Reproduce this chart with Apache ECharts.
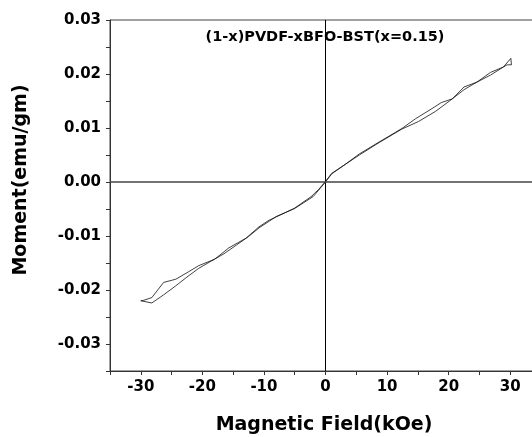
<!DOCTYPE html>
<html>
<head>
<meta charset="utf-8">
<script src="https://cdn.jsdelivr.net/npm/echarts@6/dist/echarts.min.js"></script>
<style>
html,body{margin:0;padding:0;background:#fff;}
#c{width:532px;height:437px;}
</style>
</head>
<body>
<div id="c"></div>
<script>
// Ascending branch (field increasing from -30 to +30)
const fieldUp = [-30, -28.2, -26.3, -24.4, -22.5, -20.6, -18.5, -16.5, -14.5, -12.5, -10.8, -8, -5, -2, 0, 1, 3, 5.5, 8.7, 12.4, 15.1, 17.9, 20.6, 22.5, 24.6, 26.8, 28.9, 30.1];
const momentUp = [-0.0220, -0.0224, -0.0209, -0.0193, -0.0176, -0.0160, -0.0146, -0.0133, -0.0117, -0.0101, -0.0085, -0.0064, -0.0049, -0.0027, 0.0000, 0.0015, 0.0031, 0.0050, 0.0073, 0.0098, 0.0112, 0.0131, 0.0154, 0.0171, 0.0185, 0.0198, 0.0213, 0.0229];
// Descending branch (field decreasing from +30 to -30)
const fieldDown = [30.1, 30.2, 29.5, 28.9, 26.8, 24.6, 22.5, 20.6, 18.8, 17.3, 14.6, 12.4, 8.7, 5.5, 3, 1, 0, -1.2, -1.8, -2.2, -5.1, -9.2, -10.8, -12.9, -15.7, -18, -20.6, -22.2, -24.3, -26.3, -28.2, -29.5, -30];
const momentDown = [0.0229, 0.0217, 0.0217, 0.0213, 0.0203, 0.0185, 0.0176, 0.0154, 0.0147, 0.0136, 0.0117, 0.0099, 0.0074, 0.0052, 0.0031, 0.0016, 0.0001, -0.0015, -0.0021, -0.0026, -0.0049, -0.0071, -0.0083, -0.0104, -0.0122, -0.0143, -0.0155, -0.0166, -0.0180, -0.0186, -0.0214, -0.0219, -0.0220];

const xTickLabels = ['-30', '-20', '-10', '0', '10', '20', '30'];
const yTickLabels = ['-0.03', '-0.02', '-0.01', '0.00', '0.01', '0.02', '0.03'];
const titleText = '(1-x)PVDF-xBFO-BST(x=0.15)';
const xName = 'Magnetic Field(kOe)';
const yName = 'Moment(emu/gm)';

const FONT = 'DejaVu Sans';
const upData = fieldUp.map((f, i) => [f, momentUp[i]]);
const downData = fieldDown.map((f, i) => [f, momentDown[i]]);

const chart = echarts.init(document.getElementById('c'), null, {renderer: 'canvas'});
chart.setOption({
  animation: false,
  backgroundColor: '#fff',
  grid: {left: 110, top: 20, width: 431, height: 351, containLabel: false, outerBoundsMode: 'none', show: true, borderColor: '#444', borderWidth: 1, backgroundColor: 'transparent'},
  xAxis: {
    type: 'value', min: -35, max: 35, interval: 5,
    axisLine: {show: true, onZero: false, lineStyle: {color: '#333', width: 1}},
    axisTick: {show: true, inside: false, length: 4, lineStyle: {color: '#333'}},
    splitLine: {show: false},
    axisLabel: {
      margin: 9, color: '#000', fontFamily: FONT, fontWeight: 'bold', fontSize: 15,
      formatter: function (v) {
        const s = String(Math.round(v));
        return xTickLabels.indexOf(s) >= 0 ? s : '';
      }
    }
  },
  yAxis: {
    type: 'value', min: -0.035, max: 0.03, interval: 0.005,
    axisLine: {show: true, onZero: false, lineStyle: {color: '#333', width: 1}},
    axisTick: {show: true, inside: false, length: 4, lineStyle: {color: '#333'}},
    splitLine: {show: false},
    axisLabel: {
      margin: 9, color: '#000', fontFamily: FONT, fontWeight: 'bold', fontSize: 15,
      formatter: function (v) {
        const r = Math.round(v * 1000);
        if (r % 10 !== 0) return '';
        const s = (r / 1000).toFixed(2);
        return yTickLabels.indexOf(s) >= 0 ? s : '';
      }
    }
  },
  graphic: [
    {type: 'text', z: 10, style: {text: titleText, x: 325, y: 37, align: 'center', verticalAlign: 'middle', fontFamily: FONT, fontWeight: 'bold', fontSize: 14.5, fill: '#000'}},
    {type: 'text', style: {text: xName, x: 324, y: 425, align: 'center', verticalAlign: 'middle', fontFamily: FONT, fontWeight: 'bold', fontSize: 19, fill: '#000'}},
    {type: 'text', x: 21, y: 180, rotation: Math.PI / 2, style: {text: yName, x: 0, y: 0, align: 'center', verticalAlign: 'middle', fontFamily: FONT, fontWeight: 'bold', fontSize: 19, fill: '#000'}}
  ],
  series: [
    {
      type: 'line', data: upData, showSymbol: false, smooth: false,
      lineStyle: {color: '#111', width: 0.8},
      markLine: {
        silent: true, symbol: ['none', 'none'], label: {show: false},
        lineStyle: {type: 'solid', color: '#000', width: 1},
        data: [{xAxis: 0}, {yAxis: 0, lineStyle: {color: '#444', width: 1.5}}]
      }
    },
    {
      type: 'line', data: downData, showSymbol: false, smooth: false,
      lineStyle: {color: '#111', width: 0.8}
    }
  ]
});
</script>
</body>
</html>
